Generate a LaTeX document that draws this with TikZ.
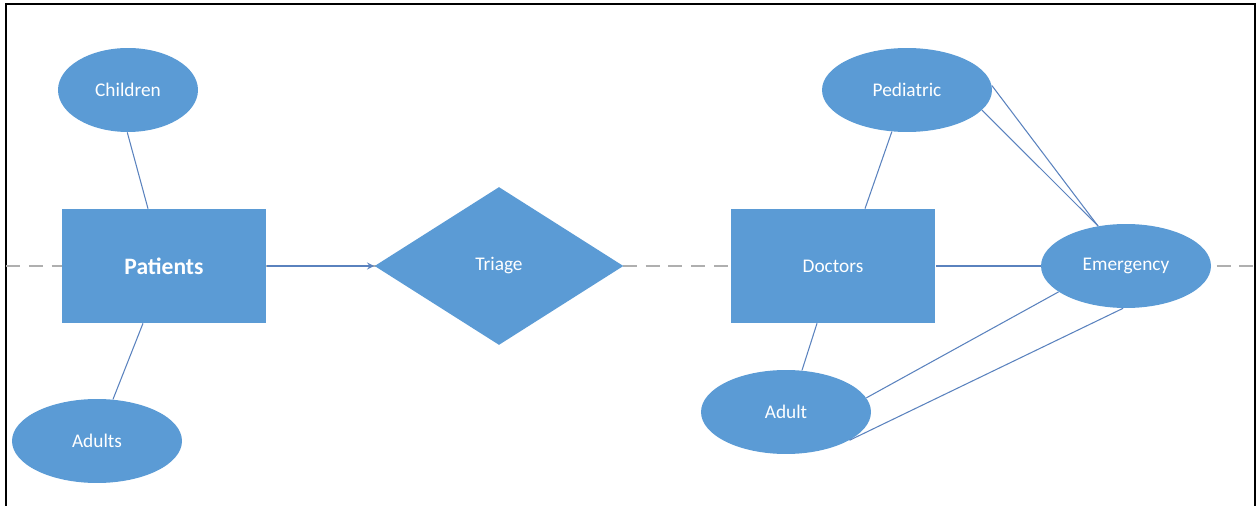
\documentclass[tikz,border=0pt]{standalone}
\usepackage{fontspec}
\setmainfont{Carlito}
\usetikzlibrary{shapes.geometric}
\definecolor{erfill}{RGB}{91,155,213}
\definecolor{erline}{RGB}{90,130,190}
\definecolor{axisgray}{RGB}{175,175,175}
\begin{document}
\begin{tikzpicture}[>=stealth,x=0.02cm,y=-0.02cm,
  entity/.style={rectangle,fill=erfill,text=white,minimum width=4.1cm,minimum height=2.28cm,inner sep=0pt},
  attr/.style={ellipse,fill=erfill,text=white,minimum width=3.4cm,minimum height=1.68cm,inner sep=0pt,font=\fontsize{11}{13}\selectfont},
  rel/.style={diamond,fill=erfill,text=white,minimum width=4.98cm,minimum height=3.16cm,inner sep=0pt,font=\fontsize{11}{13}\selectfont},
  link/.style={erline,line width=0.6pt}]
\useasboundingbox (0,0) rectangle (1257,506);
\draw[black,line width=1.2pt] (6,506)--(6,4)--(1255,4)--(1255,506);
\coordinate (axisL) at (6,266);
\coordinate (axisR) at (1255,266);
\draw[axisgray,dashed,dash pattern=on 8pt off 5pt,line width=0.6pt] (axisL)--(axisR);
\node[attr,minimum width=2.8cm] (children) at (128,90) {Children};
\node[entity,font=\fontsize{13.4}{16}\selectfont\bfseries] (patients) at (164,266) {Patients};
\node[attr] (adults) at (97,441) {Adults};
\node[rel] (triage) at (499,266) {Triage};
\node[entity,font=\fontsize{11}{13}\selectfont] (doctors) at (833,266) {Doctors};
\node[attr] (pediatric) at (907,90) {Pediatric};
\node[attr] (emergency) at (1126,266) {Emergency};
\node[attr] (adult) at (786,412) {Adult};
\draw[link] (children.-91)--(patients.north west -| 148,0);
\draw[link] (patients.south west -| 143,0)--(adults.69);
\draw[link,line width=0.8pt,->] (patients)--(triage);
\draw[link] (doctors.north west -| 865,0)--(pediatric.-110);
\draw[link] (doctors.south west -| 817,0)--(adult.69);
\draw[link,line width=0.9pt] (doctors)--(emergency);
\draw[link] (pediatric.3)--(emergency.125);
\draw[link] (pediatric.-15)--(emergency.125);
\draw[link] (adult.10)--(emergency.-159);
\draw[link] (adult.-24)--(emergency.-94);
\end{tikzpicture}
\end{document}
